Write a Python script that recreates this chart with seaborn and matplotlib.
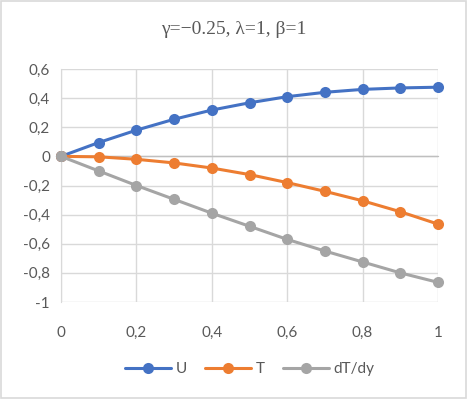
import matplotlib
matplotlib.use("Agg")
import matplotlib.pyplot as plt
import seaborn as sns
import pandas as pd

# values
y_pos = [0, 0.1, 0.2, 0.3, 0.4, 0.5, 0.6, 0.7, 0.8, 0.9, 1.0]
u_vals = [0, 0.095, 0.18, 0.255, 0.318, 0.368, 0.41, 0.44, 0.46, 0.47, 0.475]
t_vals = [0, -0.003, -0.02, -0.045, -0.08, -0.125, -0.18, -0.24, -0.305, -0.38, -0.465]
dtdy_vals = [0, -0.1, -0.2, -0.295, -0.39, -0.48, -0.57, -0.65, -0.725, -0.8, -0.865]
series_names = ["U", "T", "dT/dy"]
colors = ["#4472C4", "#ED7D31", "#A5A5A5"]

x_ticks = [0, 0.2, 0.4, 0.6, 0.8, 1.0]
x_labels = ["0", "0,2", "0,4", "0,6", "0,8", "1"]
y_ticks = [0.6, 0.4, 0.2, 0, -0.2, -0.4, -0.6, -0.8, -1]
y_labels = ["0,6", "0,4", "0,2", "0", "-0,2", "-0,4", "-0,6", "-0,8", "-1"]

df = pd.DataFrame({
    "y": y_pos * 3,
    "value": u_vals + t_vals + dtdy_vals,
    "series": ["U"] * 11 + ["T"] * 11 + ["dT/dy"] * 11,
})

sns.set_style("white")
plt.rcParams["font.family"] = ["Lato", "DejaVu Sans"]

fig = plt.figure(figsize=(4.67, 3.99), dpi=100)
ax = fig.add_axes([61 / 467, 1 - 302 / 399, 377 / 467, 233 / 399])

sns.lineplot(data=df, x="y", y="value", hue="series", hue_order=series_names,
             palette=colors, marker="o", markersize=8, linewidth=2.2,
             markeredgewidth=0, ax=ax, legend=True, zorder=3)

ax.set_xlim(0, 1)
ax.set_ylim(-1, 0.6)
ax.set_xticks(x_ticks)
ax.set_xticklabels(x_labels)
ax.set_yticks(y_ticks)
ax.set_yticklabels(y_labels)
ax.grid(True, color="#D9D9D9", linewidth=1)
ax.axhline(0, color="#BFBFBF", linewidth=1, zorder=1)
for s in ax.spines.values():
    s.set_visible(False)
ax.spines["left"].set_visible(True)
ax.spines["left"].set_color("#D9D9D9")
ax.tick_params(axis="both", length=0, labelsize=11, labelcolor="#595959")
ax.tick_params(axis="x", pad=17)
ax.tick_params(axis="y", pad=8)
ax.set_xlabel("")
ax.set_ylabel("")
for m in ax.lines:
    m.set_clip_on(False)

leg = ax.legend(loc="upper center", bbox_to_anchor=(0.5, -0.2), ncol=3,
                frameon=False, fontsize=11, handlelength=3, columnspacing=1.2,
                handletextpad=0.3)
for t in leg.get_texts():
    t.set_color("#595959")

fig.text(0.5, 1 - 30 / 399, "γ=−0.25, λ=1, β=1", ha="center", va="center",
         fontsize=14, color="#595959", family="Liberation Serif")

fig.patches.append(plt.Rectangle((0.002, 0.002), 0.996, 0.996, transform=fig.transFigure,
                                 fill=False, edgecolor="#D9D9D9", linewidth=1.2))

fig.savefig("out.png", dpi=100)
